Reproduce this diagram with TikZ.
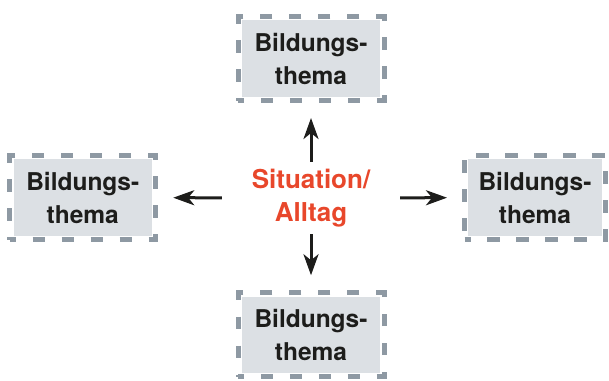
\documentclass[tikz,border=0pt]{standalone}
\usepackage{fontspec}
\setmainfont{TeX Gyre Heros}
\usetikzlibrary{arrows.meta}
\definecolor{dashgray}{HTML}{8E99A3}
\definecolor{boxfill}{HTML}{DCE0E4}
\definecolor{textdark}{HTML}{1D1D1B}
\definecolor{alltagred}{HTML}{E8472B}
\begin{document}
\begin{tikzpicture}[x=1pt,y=-1pt,
    topic/.style={draw=dashgray,line width=5pt,
        dash pattern=on 12.5pt off 16.5pt,dash phase=6.25pt,
        minimum width=146pt,minimum height=84pt,
        align=center,text=textdark,
        font=\fontsize{24.5}{33}\selectfont\bfseries,
        path picture={\fill[boxfill]
            ([shift={(3.8pt,-3.8pt)}]path picture bounding box.north west) rectangle
            ([shift={(-3.8pt,3.8pt)}]path picture bounding box.south east);}},
    arr/.style={line width=3pt,textdark,
        -{Stealth[length=21pt,width=15pt,inset=6pt]},shorten >=15pt}]
    \useasboundingbox (0,0) rectangle (609,380);
    % Centre
    \node[minimum width=178pt,minimum height=72pt,align=center,text=alltagred,
        font=\fontsize{26}{33}\selectfont\bfseries] (alltag) at (311,198) {Situation/\\Alltag};
    % Topics
    \node[topic] (thematop) at (311,58.5) {Bildungs-\\thema};
    \node[topic] (themaleft) at (82.75,197.5) {Bildungs-\\thema};
    \node[topic,minimum width=141pt] (themaright) at (535,197.5) {Bildungs-\\thema};
    \node[topic] (themabottom) at (311,334.75) {Bildungs-\\thema};
    % Arrows
    \draw[arr] (alltag) -- (thematop);
    \draw[arr] (alltag) -- (themaleft);
    \draw[arr] (alltag) -- (themaright);
    \draw[arr] (alltag) -- (themabottom);
\end{tikzpicture}
\end{document}
